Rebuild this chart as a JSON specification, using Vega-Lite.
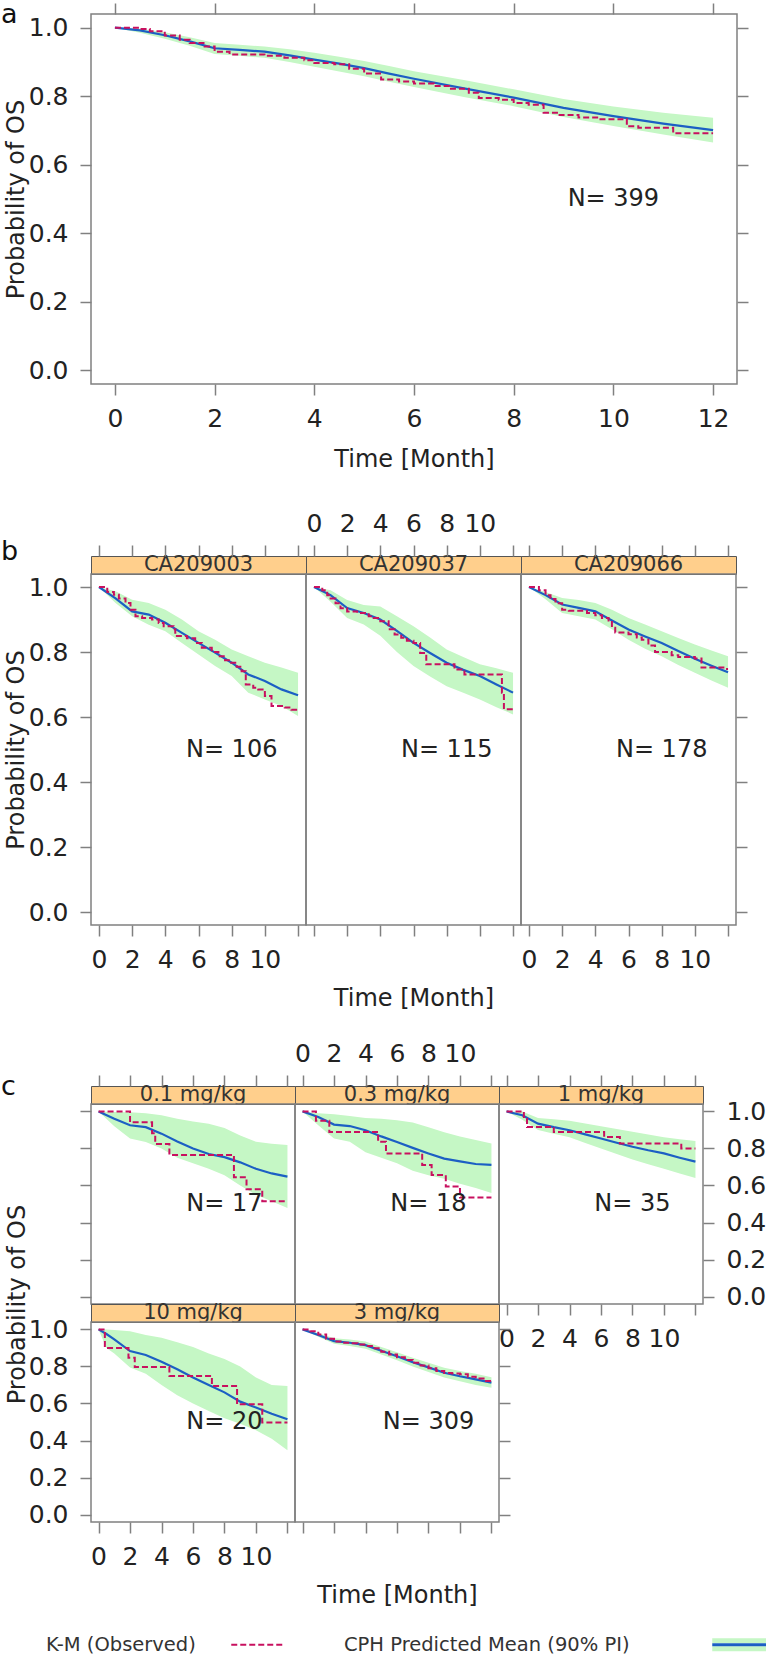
{
"$schema":"https://vega.github.io/schema/vega-lite/v6.json",
"padding":0,
"background":"white",
"spacing":38,
"config":{
 "font":"DejaVu Sans",
 "view":{"stroke":"#808080","strokeWidth":1.5},
 "axis":{"domain":false,"grid":false,"tickSize":11,"tickWidth":1.5,"tickColor":"#808080","labelFont":"DejaVu Sans","labelFontSize":25,"labelColor":"#222","labelPadding":11,"labelFlush":false,"labelOverlap":false,"labelBound":false,"titleFont":"DejaVu Sans","titleFontSize":24,"titleFontWeight":"normal","titleColor":"#222"},
 "axisLeft":{"labelPadding":12},
 "axisRight":{"labelPadding":12},
 "axisTop":{"labelPadding":9},
 "title":{"font":"DejaVu Sans","fontSize":27,"fontWeight":"normal","color":"#111","anchor":"start","frame":"group","offset":0,"baseline":"alphabetic"},
 "legend":{"labelFont":"DejaVu Sans","titleFont":"DejaVu Sans","padding":0,"labelFontSize":19.5,"labelColor":"#333","labelLimit":400,"labelOffset":0}
},
"datasets":{
"lab":[{"p":"a","txt":"N= 399"},{"p":"b1","txt":"N= 106"},{"p":"b2","txt":"N= 115"},{"p":"b3","txt":"N= 178"},{"p":"c1","txt":"N= 17"},{"p":"c2","txt":"N= 18"},{"p":"c3","txt":"N= 35"},{"p":"c4","txt":"N= 20"},{"p":"c5","txt":"N= 309"}],
"pred":[
{"p":"a","t":0,"m":1,"lo":1,"hi":1},{"p":"a","t":0.5,"m":0.992,"lo":0.985,"hi":0.997},{"p":"a","t":1,"m":0.978,"lo":0.968,"hi":0.987},{"p":"a","t":1.5,"m":0.96,"lo":0.947,"hi":0.972},{"p":"a","t":2,"m":0.94,"lo":0.923,"hi":0.955},{"p":"a","t":2.5,"m":0.935,"lo":0.918,"hi":0.95},{"p":"a","t":3,"m":0.93,"lo":0.912,"hi":0.945},{"p":"a","t":3.5,"m":0.919,"lo":0.9,"hi":0.937},{"p":"a","t":4,"m":0.907,"lo":0.886,"hi":0.927},{"p":"a","t":4.5,"m":0.895,"lo":0.872,"hi":0.915},{"p":"a","t":5,"m":0.882,"lo":0.858,"hi":0.903},{"p":"a","t":5.5,"m":0.866,"lo":0.842,"hi":0.888},{"p":"a","t":6,"m":0.851,"lo":0.827,"hi":0.873},{"p":"a","t":7,"m":0.823,"lo":0.798,"hi":0.847},{"p":"a","t":8,"m":0.796,"lo":0.771,"hi":0.82},{"p":"a","t":9,"m":0.766,"lo":0.739,"hi":0.792},{"p":"a","t":10,"m":0.742,"lo":0.713,"hi":0.77},{"p":"a","t":11,"m":0.72,"lo":0.688,"hi":0.752},{"p":"a","t":12,"m":0.701,"lo":0.665,"hi":0.737},
{"p":"b1","t":0,"m":1,"lo":1,"hi":1},{"p":"b1","t":1,"m":0.965,"lo":0.951,"hi":0.987},{"p":"b1","t":2,"m":0.925,"lo":0.91,"hi":0.961},{"p":"b1","t":3,"m":0.915,"lo":0.884,"hi":0.951},{"p":"b1","t":4,"m":0.89,"lo":0.864,"hi":0.93},{"p":"b1","t":5,"m":0.859,"lo":0.828,"hi":0.9},{"p":"b1","t":6,"m":0.828,"lo":0.792,"hi":0.864},{"p":"b1","t":7,"m":0.798,"lo":0.757,"hi":0.838},{"p":"b1","t":8,"m":0.767,"lo":0.726,"hi":0.808},{"p":"b1","t":9,"m":0.731,"lo":0.675,"hi":0.787},{"p":"b1","t":10,"m":0.711,"lo":0.654,"hi":0.767},{"p":"b1","t":11,"m":0.685,"lo":0.634,"hi":0.752},{"p":"b1","t":12,"m":0.667,"lo":0.603,"hi":0.736},
{"p":"b2","t":0,"m":1,"lo":1,"hi":1},{"p":"b2","t":1,"m":0.975,"lo":0.955,"hi":0.99},{"p":"b2","t":2,"m":0.935,"lo":0.905,"hi":0.96},{"p":"b2","t":3,"m":0.92,"lo":0.885,"hi":0.945},{"p":"b2","t":4,"m":0.9,"lo":0.85,"hi":0.94},{"p":"b2","t":5,"m":0.865,"lo":0.8,"hi":0.91},{"p":"b2","t":6,"m":0.828,"lo":0.757,"hi":0.879},{"p":"b2","t":7,"m":0.797,"lo":0.725,"hi":0.845},{"p":"b2","t":8,"m":0.767,"lo":0.695,"hi":0.808},{"p":"b2","t":9,"m":0.745,"lo":0.675,"hi":0.785},{"p":"b2","t":10,"m":0.726,"lo":0.654,"hi":0.762},{"p":"b2","t":11,"m":0.7,"lo":0.63,"hi":0.75},{"p":"b2","t":12,"m":0.675,"lo":0.608,"hi":0.736},
{"p":"b3","t":0,"m":1,"lo":1,"hi":1},{"p":"b3","t":1,"m":0.975,"lo":0.962,"hi":0.985},{"p":"b3","t":2,"m":0.946,"lo":0.92,"hi":0.966},{"p":"b3","t":3,"m":0.936,"lo":0.91,"hi":0.96},{"p":"b3","t":4,"m":0.925,"lo":0.9,"hi":0.951},{"p":"b3","t":5,"m":0.897,"lo":0.87,"hi":0.93},{"p":"b3","t":6,"m":0.869,"lo":0.838,"hi":0.905},{"p":"b3","t":7,"m":0.848,"lo":0.81,"hi":0.885},{"p":"b3","t":8,"m":0.828,"lo":0.787,"hi":0.864},{"p":"b3","t":9,"m":0.803,"lo":0.76,"hi":0.843},{"p":"b3","t":10,"m":0.779,"lo":0.736,"hi":0.823},{"p":"b3","t":11,"m":0.758,"lo":0.712,"hi":0.805},{"p":"b3","t":12,"m":0.738,"lo":0.69,"hi":0.787},
{"p":"c1","t":0,"m":1,"lo":1,"hi":1},{"p":"c1","t":1,"m":0.96,"lo":0.92,"hi":0.997},{"p":"c1","t":2,"m":0.925,"lo":0.854,"hi":0.995},{"p":"c1","t":3,"m":0.915,"lo":0.835,"hi":0.99},{"p":"c1","t":4,"m":0.88,"lo":0.8,"hi":0.979},{"p":"c1","t":5,"m":0.838,"lo":0.75,"hi":0.96},{"p":"c1","t":6,"m":0.8,"lo":0.72,"hi":0.945},{"p":"c1","t":7,"m":0.77,"lo":0.69,"hi":0.934},{"p":"c1","t":8,"m":0.753,"lo":0.655,"hi":0.91},{"p":"c1","t":9,"m":0.725,"lo":0.6,"hi":0.87},{"p":"c1","t":10,"m":0.69,"lo":0.55,"hi":0.836},{"p":"c1","t":11,"m":0.665,"lo":0.515,"hi":0.825},{"p":"c1","t":12,"m":0.648,"lo":0.479,"hi":0.818},
{"p":"c2","t":0,"m":1,"lo":1,"hi":1},{"p":"c2","t":1,"m":0.97,"lo":0.925,"hi":0.99},{"p":"c2","t":2,"m":0.929,"lo":0.854,"hi":0.985},{"p":"c2","t":3,"m":0.921,"lo":0.836,"hi":0.975},{"p":"c2","t":4,"m":0.898,"lo":0.78,"hi":0.965},{"p":"c2","t":5,"m":0.865,"lo":0.75,"hi":0.96},{"p":"c2","t":6,"m":0.835,"lo":0.72,"hi":0.952},{"p":"c2","t":7,"m":0.803,"lo":0.68,"hi":0.94},{"p":"c2","t":8,"m":0.773,"lo":0.655,"hi":0.915},{"p":"c2","t":9,"m":0.745,"lo":0.636,"hi":0.888},{"p":"c2","t":10,"m":0.73,"lo":0.61,"hi":0.865},{"p":"c2","t":11,"m":0.716,"lo":0.586,"hi":0.845},{"p":"c2","t":12,"m":0.711,"lo":0.559,"hi":0.827},
{"p":"c3","t":0,"m":1,"lo":1,"hi":1},{"p":"c3","t":1,"m":0.979,"lo":0.955,"hi":1},{"p":"c3","t":2,"m":0.934,"lo":0.9,"hi":0.964},{"p":"c3","t":3,"m":0.915,"lo":0.88,"hi":0.957},{"p":"c3","t":4,"m":0.898,"lo":0.86,"hi":0.95},{"p":"c3","t":5,"m":0.876,"lo":0.83,"hi":0.935},{"p":"c3","t":6,"m":0.854,"lo":0.8,"hi":0.92},{"p":"c3","t":7,"m":0.831,"lo":0.77,"hi":0.905},{"p":"c3","t":8,"m":0.809,"lo":0.74,"hi":0.89},{"p":"c3","t":9,"m":0.79,"lo":0.715,"hi":0.875},{"p":"c3","t":10,"m":0.773,"lo":0.69,"hi":0.86},{"p":"c3","t":11,"m":0.75,"lo":0.665,"hi":0.85},{"p":"c3","t":12,"m":0.729,"lo":0.64,"hi":0.84},
{"p":"c4","t":0,"m":1,"lo":1,"hi":1},{"p":"c4","t":0.5,"m":0.975,"lo":0.9,"hi":1},{"p":"c4","t":1,"m":0.946,"lo":0.87,"hi":0.997},{"p":"c4","t":2,"m":0.883,"lo":0.794,"hi":0.99},{"p":"c4","t":3,"m":0.862,"lo":0.76,"hi":0.97},{"p":"c4","t":4,"m":0.825,"lo":0.7,"hi":0.955},{"p":"c4","t":5,"m":0.785,"lo":0.645,"hi":0.93},{"p":"c4","t":6,"m":0.74,"lo":0.6,"hi":0.905},{"p":"c4","t":7,"m":0.7,"lo":0.56,"hi":0.87},{"p":"c4","t":8,"m":0.66,"lo":0.52,"hi":0.84},{"p":"c4","t":9,"m":0.61,"lo":0.49,"hi":0.8},{"p":"c4","t":10,"m":0.578,"lo":0.455,"hi":0.74},{"p":"c4","t":11,"m":0.545,"lo":0.41,"hi":0.7},{"p":"c4","t":12,"m":0.515,"lo":0.348,"hi":0.695},
{"p":"c5","t":0,"m":1,"lo":1,"hi":1},{"p":"c5","t":1,"m":0.97,"lo":0.96,"hi":0.98},{"p":"c5","t":2,"m":0.937,"lo":0.922,"hi":0.952},{"p":"c5","t":3,"m":0.928,"lo":0.91,"hi":0.945},{"p":"c5","t":4,"m":0.915,"lo":0.895,"hi":0.935},{"p":"c5","t":5,"m":0.885,"lo":0.865,"hi":0.905},{"p":"c5","t":6,"m":0.855,"lo":0.833,"hi":0.877},{"p":"c5","t":7,"m":0.823,"lo":0.8,"hi":0.847},{"p":"c5","t":8,"m":0.795,"lo":0.77,"hi":0.82},{"p":"c5","t":9,"m":0.766,"lo":0.74,"hi":0.793},{"p":"c5","t":10,"m":0.747,"lo":0.72,"hi":0.775},{"p":"c5","t":11,"m":0.73,"lo":0.7,"hi":0.76},{"p":"c5","t":12,"m":0.713,"lo":0.685,"hi":0.742}
],
"km":[
{"p":"a","t":0,"s":1},{"p":"a","t":0.5,"s":0.996},{"p":"a","t":0.7,"s":0.99},{"p":"a","t":1,"s":0.977},{"p":"a","t":1.3,"s":0.965},{"p":"a","t":1.5,"s":0.955},{"p":"a","t":1.8,"s":0.945},{"p":"a","t":2,"s":0.93},{"p":"a","t":2.3,"s":0.922},{"p":"a","t":3,"s":0.918},{"p":"a","t":3.4,"s":0.912},{"p":"a","t":3.8,"s":0.905},{"p":"a","t":4,"s":0.897},{"p":"a","t":4.4,"s":0.893},{"p":"a","t":4.7,"s":0.88},{"p":"a","t":5,"s":0.866},{"p":"a","t":5.34,"s":0.849},{"p":"a","t":5.7,"s":0.843},{"p":"a","t":6,"s":0.837},{"p":"a","t":6.4,"s":0.83},{"p":"a","t":6.7,"s":0.822},{"p":"a","t":7.1,"s":0.81},{"p":"a","t":7.3,"s":0.795},{"p":"a","t":7.7,"s":0.79},{"p":"a","t":8,"s":0.78},{"p":"a","t":8.3,"s":0.775},{"p":"a","t":8.6,"s":0.752},{"p":"a","t":8.9,"s":0.745},{"p":"a","t":9.3,"s":0.738},{"p":"a","t":9.7,"s":0.733},{"p":"a","t":10.27,"s":0.712},{"p":"a","t":10.5,"s":0.708},{"p":"a","t":11.2,"s":0.692},{"p":"a","t":12,"s":0.692},
{"p":"b1","t":0,"s":1},{"p":"b1","t":0.5,"s":0.985},{"p":"b1","t":0.9,"s":0.976},{"p":"b1","t":1.2,"s":0.965},{"p":"b1","t":1.6,"s":0.951},{"p":"b1","t":1.9,"s":0.93},{"p":"b1","t":2.2,"s":0.91},{"p":"b1","t":2.6,"s":0.905},{"p":"b1","t":3.2,"s":0.9},{"p":"b1","t":3.6,"s":0.889},{"p":"b1","t":3.9,"s":0.879},{"p":"b1","t":4.5,"s":0.87},{"p":"b1","t":4.6,"s":0.849},{"p":"b1","t":5.3,"s":0.842},{"p":"b1","t":5.8,"s":0.828},{"p":"b1","t":6.2,"s":0.813},{"p":"b1","t":6.8,"s":0.8},{"p":"b1","t":7.2,"s":0.787},{"p":"b1","t":7.6,"s":0.775},{"p":"b1","t":7.9,"s":0.767},{"p":"b1","t":8.3,"s":0.755},{"p":"b1","t":8.6,"s":0.741},{"p":"b1","t":8.85,"s":0.7},{"p":"b1","t":9.3,"s":0.69},{"p":"b1","t":9.6,"s":0.685},{"p":"b1","t":10,"s":0.665},{"p":"b1","t":10.4,"s":0.634},{"p":"b1","t":11.2,"s":0.629},{"p":"b1","t":11.6,"s":0.622},{"p":"b1","t":12,"s":0.622},
{"p":"b2","t":0,"s":1},{"p":"b2","t":0.5,"s":0.99},{"p":"b2","t":0.8,"s":0.975},{"p":"b2","t":1,"s":0.965},{"p":"b2","t":1.3,"s":0.95},{"p":"b2","t":1.6,"s":0.935},{"p":"b2","t":2,"s":0.925},{"p":"b2","t":2.6,"s":0.92},{"p":"b2","t":3.3,"s":0.91},{"p":"b2","t":3.6,"s":0.905},{"p":"b2","t":4,"s":0.895},{"p":"b2","t":4.5,"s":0.87},{"p":"b2","t":4.86,"s":0.854},{"p":"b2","t":5.26,"s":0.844},{"p":"b2","t":5.6,"s":0.835},{"p":"b2","t":6,"s":0.828},{"p":"b2","t":6.4,"s":0.797},{"p":"b2","t":6.77,"s":0.762},{"p":"b2","t":8.47,"s":0.746},{"p":"b2","t":9.07,"s":0.731},{"p":"b2","t":11.33,"s":0.675},{"p":"b2","t":11.45,"s":0.624},{"p":"b2","t":12,"s":0.624},
{"p":"b3","t":0,"s":1},{"p":"b3","t":0.6,"s":0.99},{"p":"b3","t":1,"s":0.975},{"p":"b3","t":1.3,"s":0.963},{"p":"b3","t":1.6,"s":0.95},{"p":"b3","t":2,"s":0.93},{"p":"b3","t":2.4,"s":0.927},{"p":"b3","t":3.5,"s":0.92},{"p":"b3","t":4,"s":0.913},{"p":"b3","t":4.4,"s":0.905},{"p":"b3","t":4.8,"s":0.897},{"p":"b3","t":5,"s":0.875},{"p":"b3","t":5.2,"s":0.86},{"p":"b3","t":6,"s":0.855},{"p":"b3","t":6.5,"s":0.845},{"p":"b3","t":6.8,"s":0.838},{"p":"b3","t":7.2,"s":0.82},{"p":"b3","t":7.6,"s":0.8},{"p":"b3","t":8.6,"s":0.79},{"p":"b3","t":9,"s":0.785},{"p":"b3","t":10,"s":0.78},{"p":"b3","t":10.4,"s":0.752},{"p":"b3","t":11.8,"s":0.748},{"p":"b3","t":12,"s":0.748},
{"p":"c1","t":0,"s":1},{"p":"c1","t":2,"s":0.941},{"p":"c1","t":3.4,"s":0.882},{"p":"c1","t":3.6,"s":0.824},{"p":"c1","t":4.5,"s":0.765},{"p":"c1","t":8.6,"s":0.645},{"p":"c1","t":9.4,"s":0.58},{"p":"c1","t":10.4,"s":0.515},{"p":"c1","t":12,"s":0.515},
{"p":"c2","t":0,"s":1},{"p":"c2","t":0.85,"s":0.95},{"p":"c2","t":1.7,"s":0.889},{"p":"c2","t":4.8,"s":0.836},{"p":"c2","t":5.3,"s":0.773},{"p":"c2","t":7.6,"s":0.711},{"p":"c2","t":8.2,"s":0.657},{"p":"c2","t":9.1,"s":0.595},{"p":"c2","t":10,"s":0.535},{"p":"c2","t":12,"s":0.535},
{"p":"c3","t":0,"s":1},{"p":"c3","t":1.1,"s":0.961},{"p":"c3","t":1.3,"s":0.916},{"p":"c3","t":3,"s":0.889},{"p":"c3","t":6.2,"s":0.862},{"p":"c3","t":7.2,"s":0.827},{"p":"c3","t":11.1,"s":0.8},{"p":"c3","t":12,"s":0.8},
{"p":"c4","t":0,"s":1},{"p":"c4","t":0.4,"s":0.9},{"p":"c4","t":1.9,"s":0.847},{"p":"c4","t":2.3,"s":0.797},{"p":"c4","t":4.5,"s":0.749},{"p":"c4","t":7.2,"s":0.695},{"p":"c4","t":8.8,"s":0.596},{"p":"c4","t":10.4,"s":0.497},{"p":"c4","t":12,"s":0.497},
{"p":"c5","t":0,"s":1},{"p":"c5","t":0.5,"s":0.99},{"p":"c5","t":1,"s":0.972},{"p":"c5","t":1.5,"s":0.95},{"p":"c5","t":2,"s":0.935},{"p":"c5","t":2.5,"s":0.928},{"p":"c5","t":3,"s":0.925},{"p":"c5","t":3.5,"s":0.918},{"p":"c5","t":4,"s":0.91},{"p":"c5","t":4.5,"s":0.898},{"p":"c5","t":5,"s":0.88},{"p":"c5","t":5.5,"s":0.865},{"p":"c5","t":6,"s":0.85},{"p":"c5","t":6.5,"s":0.835},{"p":"c5","t":7,"s":0.82},{"p":"c5","t":7.5,"s":0.805},{"p":"c5","t":8,"s":0.79},{"p":"c5","t":8.5,"s":0.775},{"p":"c5","t":9,"s":0.765},{"p":"c5","t":9.5,"s":0.762},{"p":"c5","t":10,"s":0.758},{"p":"c5","t":10.5,"s":0.745},{"p":"c5","t":11,"s":0.735},{"p":"c5","t":11.5,"s":0.722},{"p":"c5","t":12,"s":0.712}
]
},
"vconcat":[
{
 "width":646,"height":370,
 "title":{"text":"a","dx":-90,"dy":31},
 "resolve":{"axis":{"x":"independent","y":"independent"}},
 "layer":[
  {"data":{"name":"pred"},"transform":[{"filter":"datum.p=='a'"}],"mark":{"type":"area","opacity":1},
   "encoding":{"x":{"field":"t","type":"quantitative","scale":{"domain":[-0.48,12.48],"nice":false,"zero":false},"axis":{"orient":"bottom","values":[0,2,4,6,8,10,12],"title":"Time [Month]","titleX":323,"titleY":82,"titleBaseline":"alphabetic"}},
    "y":{"field":"lo","type":"quantitative","scale":{"domain":[-0.04,1.04],"nice":false,"zero":false},"axis":{"orient":"left","values":[0,0.2,0.4,0.6,0.8,1],"format":".1f","title":"Probability of OS","titleX":-75,"titleY":185,"titleBaseline":"middle"}},
    "y2":{"field":"hi"},
    "fill":{"datum":"90% PI","scale":{"range":["#C5F7C5"]},"legend":{"orient":"none","legendX":233.5,"legendY":1621,"title":null,"symbolType":"M378,-6.5H432V-1.5H378Z M378,1.5H432V6.5H378Z","symbolSize":4,"symbolStrokeWidth":0,"labelExpr":"''"}}}},
  {"data":{"name":"pred"},"transform":[{"filter":"datum.p=='a'"}],"mark":{"type":"line","strokeWidth":2.2},
   "encoding":{"x":{"field":"t","type":"quantitative","scale":{"domain":[-0.48,12.48],"nice":false,"zero":false},"axis":{"orient":"top","values":[0,2,4,6,8,10,12],"labels":false,"title":null}},
    "y":{"field":"m","type":"quantitative","scale":{"domain":[-0.04,1.04],"nice":false,"zero":false},"axis":{"orient":"right","values":[0,0.2,0.4,0.6,0.8,1],"labels":false,"title":null}},
    "stroke":{"datum":"CPH Predicted Mean (90% PI)","scale":{"range":["#1C5FC4"]},"legend":{"orient":"none","legendX":233.5,"legendY":1621,"title":null,"symbolType":"M378,0H432","symbolSize":4,"symbolStrokeWidth":3}}}},
  {"data":{"name":"km"},"transform":[{"filter":"datum.p=='a'"}],"mark":{"type":"line","interpolate":"step-after","strokeWidth":2,"stroke":"#C8105F"},
   "encoding":{"x":{"field":"t","type":"quantitative","scale":{"domain":[-0.48,12.48],"nice":false,"zero":false},"axis":null},
    "y":{"field":"s","type":"quantitative","scale":{"domain":[-0.04,1.04],"nice":false,"zero":false},"axis":null},
    "strokeDash":{"datum":"K-M (Observed)","scale":{"range":[[6,3]]},"legend":{"orient":"none","legendX":-64.5,"legendY":1621,"title":null,"symbolType":"M195,0H247","symbolSize":4,"symbolStrokeWidth":2,"symbolStrokeColor":"#D5337A"}}}},
  {"data":{"name":"lab"},"transform":[{"filter":"datum.p=='a'"}],"mark":{"type":"text","fontSize":24,"color":"#222"},
   "encoding":{"x":{"datum":10,"type":"quantitative","scale":{"domain":[-0.48,12.48],"nice":false,"zero":false},"axis":null},
    "y":{"datum":0.5,"type":"quantitative","scale":{"domain":[-0.04,1.04],"nice":false,"zero":false},"axis":null},
    "text":{"field":"txt","type":"nominal"}}}
 ]
},
{
"spacing":29,
"vconcat":[
{
 "columns":3,"spacing":0,"bounds":"flush","align":"each",
 "concat":[
  {"width":215,"height":18,"title":{"text":"b","dx":-90,"dy":16},"data":{"values":[{"lab":"CA209003"}]},"mark":{"type":"text","fontSize":21,"color":"#333"},"encoding":{"text":{"field":"lab","type":"nominal"}},"view":{"fill":"#FFCF8C","stroke":"#555","strokeWidth":1}},
  {"width":215,"height":18,"data":{"values":[{"lab":"CA209037"}]},"mark":{"type":"text","fontSize":21,"color":"#333"},"encoding":{"text":{"field":"lab","type":"nominal"}},"view":{"fill":"#FFCF8C","stroke":"#555","strokeWidth":1}},
  {"width":215,"height":18,"data":{"values":[{"lab":"CA209066"}]},"mark":{"type":"text","fontSize":21,"color":"#333"},"encoding":{"text":{"field":"lab","type":"nominal"}},"view":{"fill":"#FFCF8C","stroke":"#555","strokeWidth":1}},
  {"width":215,"height":351,"resolve":{"axis":{"x":"independent","y":"independent"}},
   "layer":[
    {"data":{"name":"pred"},"transform":[{"filter":"datum.p=='b1'"}],"mark":{"type":"area","opacity":1},
     "encoding":{"x":{"field":"t","type":"quantitative","scale":{"domain":[-0.48,12.48],"nice":false,"zero":false},"axis":{"orient":"bottom","values":[0,2,4,6,8,10,12],"labelExpr":"datum.value==12?'':datum.label","title":null}},
      "y":{"field":"lo","type":"quantitative","scale":{"domain":[-0.04,1.04],"nice":false,"zero":false},"axis":{"orient":"left","values":[0,0.2,0.4,0.6,0.8,1],"format":".1f","title":"Probability of OS","titleX":-75,"titleY":175.5,"titleBaseline":"middle"}},
      "y2":{"field":"hi"},"fill":{"datum":"90% PI","scale":{"range":["#C5F7C5"]}}}},
    {"data":{"name":"pred"},"transform":[{"filter":"datum.p=='b1'"}],"mark":{"type":"line","strokeWidth":2.2},
     "encoding":{"x":{"field":"t","type":"quantitative","scale":{"domain":[-0.48,12.48],"nice":false,"zero":false},"axis":{"orient":"top","offset":18,"values":[0,2,4,6,8,10,12],"labels":false,"title":null}},
      "y":{"field":"m","type":"quantitative","scale":{"domain":[-0.04,1.04],"nice":false,"zero":false},"axis":null},
      "stroke":{"datum":"CPH Predicted Mean (90% PI)","scale":{"range":["#1C5FC4"]}}}},
    {"data":{"name":"km"},"transform":[{"filter":"datum.p=='b1'"}],"mark":{"type":"line","interpolate":"step-after","strokeWidth":2,"stroke":"#C8105F"},
     "encoding":{"x":{"field":"t","type":"quantitative","scale":{"domain":[-0.48,12.48],"nice":false,"zero":false},"axis":null},
      "y":{"field":"s","type":"quantitative","scale":{"domain":[-0.04,1.04],"nice":false,"zero":false},"axis":null},
      "strokeDash":{"datum":"K-M (Observed)","scale":{"range":[[6,3]]}}}},
    {"data":{"name":"lab"},"transform":[{"filter":"datum.p=='b1'"}],"mark":{"type":"text","fontSize":24,"color":"#222"},
     "encoding":{"x":{"datum":8,"type":"quantitative","scale":{"domain":[-0.48,12.48],"nice":false,"zero":false},"axis":null},
      "y":{"datum":0.5,"type":"quantitative","scale":{"domain":[-0.04,1.04],"nice":false,"zero":false},"axis":null},
      "text":{"field":"txt","type":"nominal"}}}
   ]},
  {"width":215,"height":351,"resolve":{"axis":{"x":"independent","y":"independent"}},
   "layer":[
    {"data":{"name":"pred"},"transform":[{"filter":"datum.p=='b2'"}],"mark":{"type":"area","opacity":1},
     "encoding":{"x":{"field":"t","type":"quantitative","scale":{"domain":[-0.48,12.48],"nice":false,"zero":false},"axis":{"orient":"bottom","values":[0,2,4,6,8,10,12],"labels":false,"title":"Time [Month]","titleX":107.5,"titleY":80,"titleBaseline":"alphabetic"}},
      "y":{"field":"lo","type":"quantitative","scale":{"domain":[-0.04,1.04],"nice":false,"zero":false},"axis":null},
      "y2":{"field":"hi"},"fill":{"datum":"90% PI","scale":{"range":["#C5F7C5"]}}}},
    {"data":{"name":"pred"},"transform":[{"filter":"datum.p=='b2'"}],"mark":{"type":"line","strokeWidth":2.2},
     "encoding":{"x":{"field":"t","type":"quantitative","scale":{"domain":[-0.48,12.48],"nice":false,"zero":false},"axis":{"orient":"top","offset":18,"values":[0,2,4,6,8,10,12],"labelExpr":"datum.value==12?'':datum.label","title":null}},
      "y":{"field":"m","type":"quantitative","scale":{"domain":[-0.04,1.04],"nice":false,"zero":false},"axis":null},
      "stroke":{"datum":"CPH Predicted Mean (90% PI)","scale":{"range":["#1C5FC4"]}}}},
    {"data":{"name":"km"},"transform":[{"filter":"datum.p=='b2'"}],"mark":{"type":"line","interpolate":"step-after","strokeWidth":2,"stroke":"#C8105F"},
     "encoding":{"x":{"field":"t","type":"quantitative","scale":{"domain":[-0.48,12.48],"nice":false,"zero":false},"axis":null},
      "y":{"field":"s","type":"quantitative","scale":{"domain":[-0.04,1.04],"nice":false,"zero":false},"axis":null},
      "strokeDash":{"datum":"K-M (Observed)","scale":{"range":[[6,3]]}}}},
    {"data":{"name":"lab"},"transform":[{"filter":"datum.p=='b2'"}],"mark":{"type":"text","fontSize":24,"color":"#222"},
     "encoding":{"x":{"datum":8,"type":"quantitative","scale":{"domain":[-0.48,12.48],"nice":false,"zero":false},"axis":null},
      "y":{"datum":0.5,"type":"quantitative","scale":{"domain":[-0.04,1.04],"nice":false,"zero":false},"axis":null},
      "text":{"field":"txt","type":"nominal"}}}
   ]},
  {"width":215,"height":351,"resolve":{"axis":{"x":"independent","y":"independent"}},
   "layer":[
    {"data":{"name":"pred"},"transform":[{"filter":"datum.p=='b3'"}],"mark":{"type":"area","opacity":1},
     "encoding":{"x":{"field":"t","type":"quantitative","scale":{"domain":[-0.48,12.48],"nice":false,"zero":false},"axis":{"orient":"bottom","values":[0,2,4,6,8,10,12],"labelExpr":"datum.value==12?'':datum.label","title":null}},
      "y":{"field":"lo","type":"quantitative","scale":{"domain":[-0.04,1.04],"nice":false,"zero":false},"axis":null},
      "y2":{"field":"hi"},"fill":{"datum":"90% PI","scale":{"range":["#C5F7C5"]}}}},
    {"data":{"name":"pred"},"transform":[{"filter":"datum.p=='b3'"}],"mark":{"type":"line","strokeWidth":2.2},
     "encoding":{"x":{"field":"t","type":"quantitative","scale":{"domain":[-0.48,12.48],"nice":false,"zero":false},"axis":{"orient":"top","offset":18,"values":[0,2,4,6,8,10,12],"labels":false,"title":null}},
      "y":{"field":"m","type":"quantitative","scale":{"domain":[-0.04,1.04],"nice":false,"zero":false},"axis":{"orient":"right","values":[0,0.2,0.4,0.6,0.8,1],"labels":false,"title":null}},
      "stroke":{"datum":"CPH Predicted Mean (90% PI)","scale":{"range":["#1C5FC4"]}}}},
    {"data":{"name":"km"},"transform":[{"filter":"datum.p=='b3'"}],"mark":{"type":"line","interpolate":"step-after","strokeWidth":2,"stroke":"#C8105F"},
     "encoding":{"x":{"field":"t","type":"quantitative","scale":{"domain":[-0.48,12.48],"nice":false,"zero":false},"axis":null},
      "y":{"field":"s","type":"quantitative","scale":{"domain":[-0.04,1.04],"nice":false,"zero":false},"axis":null},
      "strokeDash":{"datum":"K-M (Observed)","scale":{"range":[[6,3]]}}}},
    {"data":{"name":"lab"},"transform":[{"filter":"datum.p=='b3'"}],"mark":{"type":"text","fontSize":24,"color":"#222"},
     "encoding":{"x":{"datum":8,"type":"quantitative","scale":{"domain":[-0.48,12.48],"nice":false,"zero":false},"axis":null},
      "y":{"datum":0.5,"type":"quantitative","scale":{"domain":[-0.04,1.04],"nice":false,"zero":false},"axis":null},
      "text":{"field":"txt","type":"nominal"}}}
   ]}
 ]
},
{
 "columns":3,"spacing":0,"bounds":"flush","align":"each",
 "concat":[
  {"width":204,"height":18,"title":{"text":"c","dx":-90,"dy":21},"data":{"values":[{"lab":"0.1 mg/kg"}]},"mark":{"type":"text","fontSize":21,"color":"#333"},"encoding":{"text":{"field":"lab","type":"nominal"}},"view":{"fill":"#FFCF8C","stroke":"#555","strokeWidth":1}},
  {"width":204,"height":18,"data":{"values":[{"lab":"0.3 mg/kg"}]},"mark":{"type":"text","fontSize":21,"color":"#333"},"encoding":{"text":{"field":"lab","type":"nominal"}},"view":{"fill":"#FFCF8C","stroke":"#555","strokeWidth":1}},
  {"width":204,"height":18,"data":{"values":[{"lab":"1 mg/kg"}]},"mark":{"type":"text","fontSize":21,"color":"#333"},"encoding":{"text":{"field":"lab","type":"nominal"}},"view":{"fill":"#FFCF8C","stroke":"#555","strokeWidth":1}},
  {"width":204,"height":200,"resolve":{"axis":{"x":"independent","y":"independent"}},
   "layer":[
    {"data":{"name":"pred"},"transform":[{"filter":"datum.p=='c1'"}],"mark":{"type":"area","opacity":1},
     "encoding":{"x":{"field":"t","type":"quantitative","scale":{"domain":[-0.48,12.48],"nice":false,"zero":false},"axis":null},
      "y":{"field":"lo","type":"quantitative","scale":{"domain":[-0.04,1.04],"nice":false,"zero":false},"axis":{"orient":"left","values":[0,0.2,0.4,0.6,0.8,1],"labels":false,"title":"Probability of OS","titleX":-74,"titleY":200,"titleBaseline":"middle"}},
      "y2":{"field":"hi"},"fill":{"datum":"90% PI","scale":{"range":["#C5F7C5"]}}}},
    {"data":{"name":"pred"},"transform":[{"filter":"datum.p=='c1'"}],"mark":{"type":"line","strokeWidth":2.2},
     "encoding":{"x":{"field":"t","type":"quantitative","scale":{"domain":[-0.48,12.48],"nice":false,"zero":false},"axis":{"orient":"top","offset":18,"values":[0,2,4,6,8,10,12],"labels":false,"title":null}},
      "y":{"field":"m","type":"quantitative","scale":{"domain":[-0.04,1.04],"nice":false,"zero":false},"axis":null},
      "stroke":{"datum":"CPH Predicted Mean (90% PI)","scale":{"range":["#1C5FC4"]}}}},
    {"data":{"name":"km"},"transform":[{"filter":"datum.p=='c1'"}],"mark":{"type":"line","interpolate":"step-after","strokeWidth":2,"stroke":"#C8105F"},
     "encoding":{"x":{"field":"t","type":"quantitative","scale":{"domain":[-0.48,12.48],"nice":false,"zero":false},"axis":null},
      "y":{"field":"s","type":"quantitative","scale":{"domain":[-0.04,1.04],"nice":false,"zero":false},"axis":null},
      "strokeDash":{"datum":"K-M (Observed)","scale":{"range":[[6,3]]}}}},
    {"data":{"name":"lab"},"transform":[{"filter":"datum.p=='c1'"}],"mark":{"type":"text","fontSize":24,"color":"#222"},
     "encoding":{"x":{"datum":8,"type":"quantitative","scale":{"domain":[-0.48,12.48],"nice":false,"zero":false},"axis":null},
      "y":{"datum":0.5,"type":"quantitative","scale":{"domain":[-0.04,1.04],"nice":false,"zero":false},"axis":null},
      "text":{"field":"txt","type":"nominal"}}}
   ]},
  {"width":204,"height":200,"resolve":{"axis":{"x":"independent","y":"independent"}},
   "layer":[
    {"data":{"name":"pred"},"transform":[{"filter":"datum.p=='c2'"}],"mark":{"type":"area","opacity":1},
     "encoding":{"x":{"field":"t","type":"quantitative","scale":{"domain":[-0.48,12.48],"nice":false,"zero":false},"axis":null},
      "y":{"field":"lo","type":"quantitative","scale":{"domain":[-0.04,1.04],"nice":false,"zero":false},"axis":null},
      "y2":{"field":"hi"},"fill":{"datum":"90% PI","scale":{"range":["#C5F7C5"]}}}},
    {"data":{"name":"pred"},"transform":[{"filter":"datum.p=='c2'"}],"mark":{"type":"line","strokeWidth":2.2},
     "encoding":{"x":{"field":"t","type":"quantitative","scale":{"domain":[-0.48,12.48],"nice":false,"zero":false},"axis":{"orient":"top","offset":18,"values":[0,2,4,6,8,10,12],"labelExpr":"datum.value==12?'':datum.label","title":null}},
      "y":{"field":"m","type":"quantitative","scale":{"domain":[-0.04,1.04],"nice":false,"zero":false},"axis":null},
      "stroke":{"datum":"CPH Predicted Mean (90% PI)","scale":{"range":["#1C5FC4"]}}}},
    {"data":{"name":"km"},"transform":[{"filter":"datum.p=='c2'"}],"mark":{"type":"line","interpolate":"step-after","strokeWidth":2,"stroke":"#C8105F"},
     "encoding":{"x":{"field":"t","type":"quantitative","scale":{"domain":[-0.48,12.48],"nice":false,"zero":false},"axis":null},
      "y":{"field":"s","type":"quantitative","scale":{"domain":[-0.04,1.04],"nice":false,"zero":false},"axis":null},
      "strokeDash":{"datum":"K-M (Observed)","scale":{"range":[[6,3]]}}}},
    {"data":{"name":"lab"},"transform":[{"filter":"datum.p=='c2'"}],"mark":{"type":"text","fontSize":24,"color":"#222"},
     "encoding":{"x":{"datum":8,"type":"quantitative","scale":{"domain":[-0.48,12.48],"nice":false,"zero":false},"axis":null},
      "y":{"datum":0.5,"type":"quantitative","scale":{"domain":[-0.04,1.04],"nice":false,"zero":false},"axis":null},
      "text":{"field":"txt","type":"nominal"}}}
   ]},
  {"width":204,"height":200,"resolve":{"axis":{"x":"independent","y":"independent"}},
   "layer":[
    {"data":{"name":"pred"},"transform":[{"filter":"datum.p=='c3'"}],"mark":{"type":"area","opacity":1},
     "encoding":{"x":{"field":"t","type":"quantitative","scale":{"domain":[-0.48,12.48],"nice":false,"zero":false},"axis":{"orient":"bottom","values":[0,2,4,6,8,10,12],"labelExpr":"datum.value==12?'':datum.label","title":null}},
      "y":{"field":"lo","type":"quantitative","scale":{"domain":[-0.04,1.04],"nice":false,"zero":false},"axis":null},
      "y2":{"field":"hi"},"fill":{"datum":"90% PI","scale":{"range":["#C5F7C5"]}}}},
    {"data":{"name":"pred"},"transform":[{"filter":"datum.p=='c3'"}],"mark":{"type":"line","strokeWidth":2.2},
     "encoding":{"x":{"field":"t","type":"quantitative","scale":{"domain":[-0.48,12.48],"nice":false,"zero":false},"axis":{"orient":"top","offset":18,"values":[0,2,4,6,8,10,12],"labels":false,"title":null}},
      "y":{"field":"m","type":"quantitative","scale":{"domain":[-0.04,1.04],"nice":false,"zero":false},"axis":{"orient":"right","values":[0,0.2,0.4,0.6,0.8,1],"format":".1f","title":null}},
      "stroke":{"datum":"CPH Predicted Mean (90% PI)","scale":{"range":["#1C5FC4"]}}}},
    {"data":{"name":"km"},"transform":[{"filter":"datum.p=='c3'"}],"mark":{"type":"line","interpolate":"step-after","strokeWidth":2,"stroke":"#C8105F"},
     "encoding":{"x":{"field":"t","type":"quantitative","scale":{"domain":[-0.48,12.48],"nice":false,"zero":false},"axis":null},
      "y":{"field":"s","type":"quantitative","scale":{"domain":[-0.04,1.04],"nice":false,"zero":false},"axis":null},
      "strokeDash":{"datum":"K-M (Observed)","scale":{"range":[[6,3]]}}}},
    {"data":{"name":"lab"},"transform":[{"filter":"datum.p=='c3'"}],"mark":{"type":"text","fontSize":24,"color":"#222"},
     "encoding":{"x":{"datum":8,"type":"quantitative","scale":{"domain":[-0.48,12.48],"nice":false,"zero":false},"axis":null},
      "y":{"datum":0.5,"type":"quantitative","scale":{"domain":[-0.04,1.04],"nice":false,"zero":false},"axis":null},
      "text":{"field":"txt","type":"nominal"}}}
   ]},
  {"width":204,"height":18,"data":{"values":[{"lab":"10 mg/kg"}]},"mark":{"type":"text","fontSize":21,"color":"#333"},"encoding":{"text":{"field":"lab","type":"nominal"}},"view":{"fill":"#FFCF8C","stroke":"#555","strokeWidth":1}},
  {"width":204,"height":18,"data":{"values":[{"lab":"3 mg/kg"}]},"mark":{"type":"text","fontSize":21,"color":"#333"},"encoding":{"text":{"field":"lab","type":"nominal"}},"view":{"fill":"#FFCF8C","stroke":"#555","strokeWidth":1}},
  {"width":204,"height":18,"data":{"values":[]},"mark":"text","view":{"stroke":null}},
  {"width":204,"height":200,"resolve":{"axis":{"x":"independent","y":"independent"}},
   "layer":[
    {"data":{"name":"pred"},"transform":[{"filter":"datum.p=='c4'"}],"mark":{"type":"area","opacity":1},
     "encoding":{"x":{"field":"t","type":"quantitative","scale":{"domain":[-0.48,12.48],"nice":false,"zero":false},"axis":{"orient":"bottom","values":[0,2,4,6,8,10,12],"labelExpr":"datum.value==12?'':datum.label","title":null}},
      "y":{"field":"lo","type":"quantitative","scale":{"domain":[-0.04,1.04],"nice":false,"zero":false},"axis":{"orient":"left","values":[0,0.2,0.4,0.6,0.8,1],"format":".1f","title":null}},
      "y2":{"field":"hi"},"fill":{"datum":"90% PI","scale":{"range":["#C5F7C5"]}}}},
    {"data":{"name":"pred"},"transform":[{"filter":"datum.p=='c4'"}],"mark":{"type":"line","strokeWidth":2.2},
     "encoding":{"x":{"field":"t","type":"quantitative","scale":{"domain":[-0.48,12.48],"nice":false,"zero":false},"axis":null},
      "y":{"field":"m","type":"quantitative","scale":{"domain":[-0.04,1.04],"nice":false,"zero":false},"axis":null},
      "stroke":{"datum":"CPH Predicted Mean (90% PI)","scale":{"range":["#1C5FC4"]}}}},
    {"data":{"name":"km"},"transform":[{"filter":"datum.p=='c4'"}],"mark":{"type":"line","interpolate":"step-after","strokeWidth":2,"stroke":"#C8105F"},
     "encoding":{"x":{"field":"t","type":"quantitative","scale":{"domain":[-0.48,12.48],"nice":false,"zero":false},"axis":null},
      "y":{"field":"s","type":"quantitative","scale":{"domain":[-0.04,1.04],"nice":false,"zero":false},"axis":null},
      "strokeDash":{"datum":"K-M (Observed)","scale":{"range":[[6,3]]}}}},
    {"data":{"name":"lab"},"transform":[{"filter":"datum.p=='c4'"}],"mark":{"type":"text","fontSize":24,"color":"#222"},
     "encoding":{"x":{"datum":8,"type":"quantitative","scale":{"domain":[-0.48,12.48],"nice":false,"zero":false},"axis":null},
      "y":{"datum":0.5,"type":"quantitative","scale":{"domain":[-0.04,1.04],"nice":false,"zero":false},"axis":null},
      "text":{"field":"txt","type":"nominal"}}}
   ]},
  {"width":204,"height":200,"resolve":{"axis":{"x":"independent","y":"independent"}},
   "layer":[
    {"data":{"name":"pred"},"transform":[{"filter":"datum.p=='c5'"}],"mark":{"type":"area","opacity":1},
     "encoding":{"x":{"field":"t","type":"quantitative","scale":{"domain":[-0.48,12.48],"nice":false,"zero":false},"axis":{"orient":"bottom","values":[0,2,4,6,8,10,12],"labels":false,"title":"Time [Month]","titleX":102,"titleY":80,"titleBaseline":"alphabetic"}},
      "y":{"field":"lo","type":"quantitative","scale":{"domain":[-0.04,1.04],"nice":false,"zero":false},"axis":null},
      "y2":{"field":"hi"},"fill":{"datum":"90% PI","scale":{"range":["#C5F7C5"]}}}},
    {"data":{"name":"pred"},"transform":[{"filter":"datum.p=='c5'"}],"mark":{"type":"line","strokeWidth":2.2},
     "encoding":{"x":{"field":"t","type":"quantitative","scale":{"domain":[-0.48,12.48],"nice":false,"zero":false},"axis":null},
      "y":{"field":"m","type":"quantitative","scale":{"domain":[-0.04,1.04],"nice":false,"zero":false},"axis":{"orient":"right","values":[0,0.2,0.4,0.6,0.8,1],"labels":false,"title":null}},
      "stroke":{"datum":"CPH Predicted Mean (90% PI)","scale":{"range":["#1C5FC4"]}}}},
    {"data":{"name":"km"},"transform":[{"filter":"datum.p=='c5'"}],"mark":{"type":"line","interpolate":"step-after","strokeWidth":2,"stroke":"#C8105F"},
     "encoding":{"x":{"field":"t","type":"quantitative","scale":{"domain":[-0.48,12.48],"nice":false,"zero":false},"axis":null},
      "y":{"field":"s","type":"quantitative","scale":{"domain":[-0.04,1.04],"nice":false,"zero":false},"axis":null},
      "strokeDash":{"datum":"K-M (Observed)","scale":{"range":[[6,3]]}}}},
    {"data":{"name":"lab"},"transform":[{"filter":"datum.p=='c5'"}],"mark":{"type":"text","fontSize":24,"color":"#222"},
     "encoding":{"x":{"datum":8,"type":"quantitative","scale":{"domain":[-0.48,12.48],"nice":false,"zero":false},"axis":null},
      "y":{"datum":0.5,"type":"quantitative","scale":{"domain":[-0.04,1.04],"nice":false,"zero":false},"axis":null},
      "text":{"field":"txt","type":"nominal"}}}
   ]}
 ]
}
]
}
]
}
